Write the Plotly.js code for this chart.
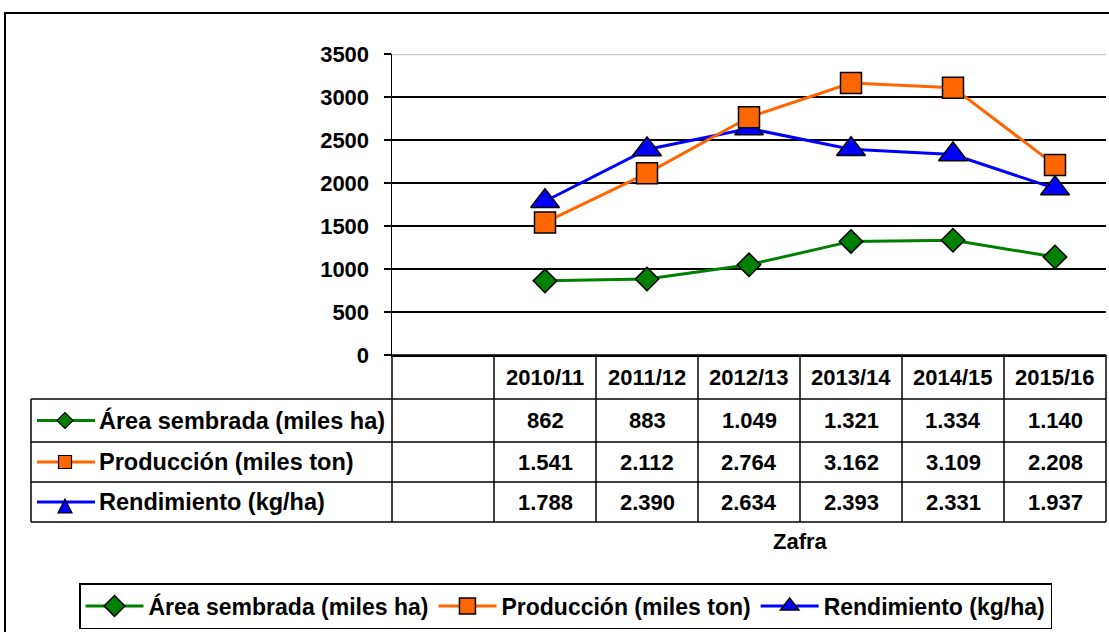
<!DOCTYPE html>
<html><head><meta charset="utf-8">
<script src="https://cdn.plot.ly/plotly-3.0.1.min.js"></script>
<style>html,body{margin:0;padding:0;background:#fff;} #chart{width:1109px;height:632px;}</style>
</head><body><div id="chart"></div>
<script>
// ---- data ----
const categories = ["2010/11","2011/12","2012/13","2013/14","2014/15","2015/16"];
const areaSembrada = [862, 883, 1049, 1321, 1334, 1140];
const produccion = [1541, 2112, 2764, 3162, 3109, 2208];
const rendimiento = [1788, 2390, 2634, 2393, 2331, 1937];
const seriesNames = ["Área sembrada (miles ha)", "Producción (miles ton)", "Rendimiento (kg/ha)"];
const yTickValues = [0, 500, 1000, 1500, 2000, 2500, 3000, 3500];
const xTitle = "Zafra";

// ---- geometry / style ----
const W = 1109, H = 632, L = 392, R = 1106, T = 54, B = 355;
const px = p => (p - L) / (R - L);
const py = p => (B - p) / (B - T);
const FONT = "Liberation Sans, Arial, sans-serif";
const colors = ["#008000", "#FF6600", "#0000FF"];
const symbols = ["diamond", "square", "triangle-up"];
const xs = categories.map((c, i) => i + 1); // slot 0 is the empty first column
const seriesData = [areaSembrada, produccion, rendimiento];
const fmt = v => String(v).replace(/\B(?=(\d{3})+(?!\d))/g, ".");

const markerSizes = [18, 21, 25];
const traces = [];
[0, 2, 1].forEach(k => {
  traces.push({
    type: "scatter", mode: "lines+markers", name: seriesNames[k],
    x: xs, y: seriesData[k], legendrank: k + 1, cliponaxis: false,
    line: {color: colors[k], width: 3},
    marker: {symbol: symbols[k], size: markerSizes[k], color: colors[k], line: {color: "#000", width: 1.5}},
    hoverinfo: "skip"
  });
});

const shapes = [];
const annotations = [];
const lineStyle = {color: "#000", width: 1.5};
// outer frame
shapes.push({type: "rect", xref: "paper", yref: "paper", x0: px(5), x1: px(1116), y0: py(13), y1: py(640), line: {color: "#000", width: 2}, layer: "below"});
// light top gridline
shapes.push({type: "line", xref: "paper", yref: "y", x0: 0, x1: 1, y0: 3500, y1: 3500, line: {color: "#C8C8C8", width: 2.5}, layer: "above"});
// table
const rowEdges = [355, 399, 442, 482, 522];
const tableLeft = 31;
shapes.push({type: "line", xref: "paper", yref: "paper", x0: 0, x1: 1, y0: py(355), y1: py(355), line: lineStyle});
for (let r = 1; r < rowEdges.length; r++) {
  shapes.push({type: "line", xref: "paper", yref: "paper", x0: px(tableLeft), x1: 1, y0: py(rowEdges[r]), y1: py(rowEdges[r]), line: lineStyle});
}
shapes.push({type: "line", xref: "paper", yref: "paper", x0: px(tableLeft), x1: px(tableLeft), y0: py(399), y1: py(522), line: lineStyle});
for (let c = 0; c <= categories.length + 1; c++) {
  const xp = c / (categories.length + 1);
  shapes.push({type: "line", xref: "paper", yref: "paper", x0: xp, x1: xp, y0: py(355), y1: py(522), line: lineStyle});
}
// header
categories.forEach((c, i) => {
  annotations.push({xref: "x", yref: "paper", x: xs[i], y: py(377), text: c, showarrow: false,
    xanchor: "center", yanchor: "middle", font: {family: FONT, size: 22, weight: 700, color: "#000"}});
});
// rows
for (let k = 0; k < 3; k++) {
  const yc = (rowEdges[k + 1] + rowEdges[k + 2]) / 2;
  seriesData[k].forEach((v, i) => {
    annotations.push({xref: "x", yref: "paper", x: xs[i], y: py(yc), text: fmt(v), showarrow: false,
      xanchor: "center", yanchor: "middle", font: {family: FONT, size: 22, weight: 700, color: "#000"}});
  });
  annotations.push({xref: "paper", yref: "paper", x: px(97), y: py(yc), text: seriesNames[k], showarrow: false,
    xanchor: "left", yanchor: "middle", font: {family: FONT, size: 23.5, weight: 700, color: "#000"}});
  // key symbol
  shapes.push({type: "line", xref: "paper", yref: "paper", x0: px(37), x1: px(95), y0: py(yc), y1: py(yc), line: {color: colors[k], width: 3}});
  let path;
  const cx = 65, cy = yc;
  if (k === 0) path = `M${px(cx-8)},${py(cy)} L${px(cx)},${py(cy-8)} L${px(cx+8)},${py(cy)} L${px(cx)},${py(cy+8)} Z`;
  else if (k === 1) path = `M${px(cx-6.5)},${py(cy-6.5)} L${px(cx+6.5)},${py(cy-6.5)} L${px(cx+6.5)},${py(cy+6.5)} L${px(cx-6.5)},${py(cy+6.5)} Z`;
  else path = `M${px(cx-7)},${py(cy+11)} L${px(cx+7)},${py(cy+11)} L${px(cx)},${py(cy-3)} Z`;
  shapes.push({type: "path", xref: "paper", yref: "paper", path: path, fillcolor: colors[k], line: {color: "#000", width: 1.2}});
}
annotations.push({xref: "x", yref: "paper", x: (xs[0] + xs[xs.length - 1]) / 2, y: py(541), text: xTitle, showarrow: false,
  xanchor: "center", yanchor: "middle", font: {family: FONT, size: 22, weight: 700, color: "#000"}});

const layout = {
  width: W, height: H, autosize: false,
  margin: {l: L, r: W - R, t: T, b: H - B, pad: 0},
  paper_bgcolor: "#fff", plot_bgcolor: "#fff",
  font: {family: FONT, color: "#000"},
  showlegend: true,
  xaxis: {range: [-0.5, categories.length + 0.5], showgrid: false, zeroline: false, showticklabels: false,
    showline: true, linecolor: "#000", linewidth: 1.5, ticks: "", fixedrange: true},
  yaxis: {range: [0, 3500], tickvals: yTickValues, ticktext: yTickValues.map(String), showgrid: true, gridcolor: "#000", gridwidth: 1.5,
    zeroline: false, showline: true, linecolor: "#000", linewidth: 1.5, ticks: "outside", ticklen: 7,
    tickcolor: "#000", tickwidth: 1.5, ticklabelstandoff: 10,
    tickfont: {family: FONT, size: 22, weight: 700, color: "#000"}, fixedrange: true},
  legend: {orientation: "h", x: px(79), y: py(629), xanchor: "left", yanchor: "bottom",
    bordercolor: "#000", borderwidth: 1.5, bgcolor: "#fff", itemwidth: 58, tracegroupgap: 0,
    font: {family: FONT, size: 23, weight: 700, color: "#000"}, traceorder: "normal"},
  shapes: shapes, annotations: annotations
};
Plotly.newPlot("chart", traces, layout, {displayModeBar: false, staticPlot: true});
</script>
</body></html>
